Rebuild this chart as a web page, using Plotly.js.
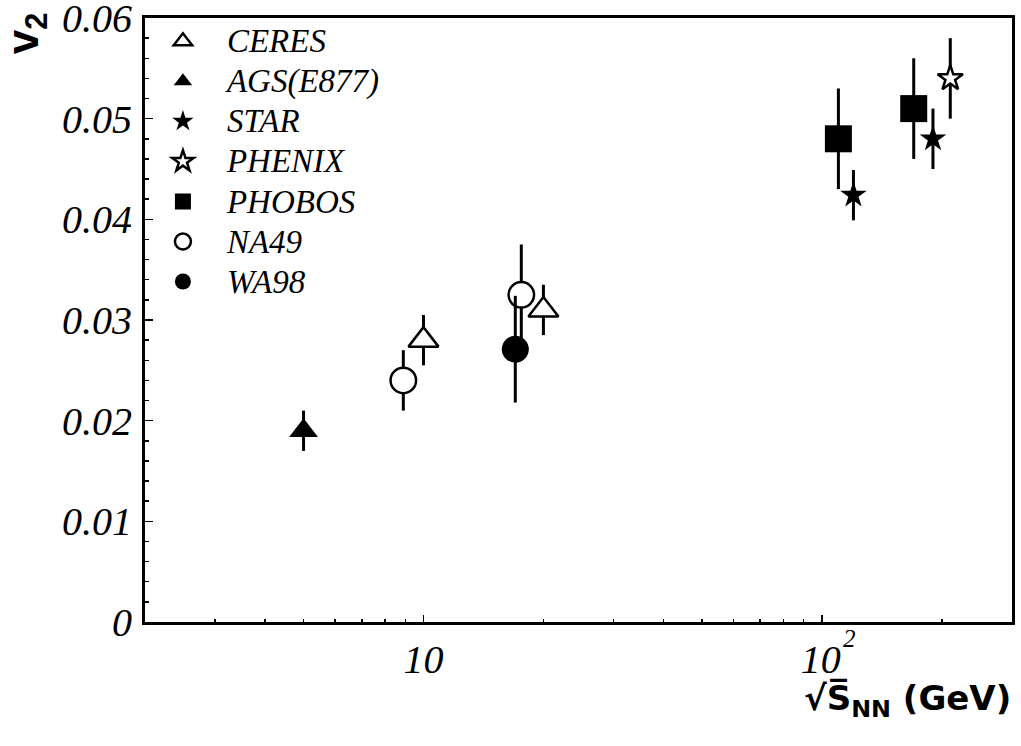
<!DOCTYPE html>
<html>
<head>
<meta charset="utf-8">
<script src="https://cdn.plot.ly/plotly-3.0.1.min.js"></script>
<style>html,body{margin:0;padding:0;background:#fff;}#chart{width:1021px;height:746px;}</style>
</head>
<body>
<div id="chart"></div>
<script>
// ---- data ----
const ceresX = [10, 20];
const ceresY = [0.028, 0.031];
const ceresErr = [0.0025, 0.0025];

const agsX = [5.0];
const agsY = [0.019];
const agsErr = [0.002];

const starX = [120, 190];
const starY = [0.0424, 0.048];
const starErr = [0.0025, 0.003];

const phenixX = [210];
const phenixY = [0.054];
const phenixErr = [0.004];

const phobosX = [110, 170];
const phobosY = [0.048, 0.051];
const phobosErr = [0.005, 0.005];

const na49X = [8.9, 17.6];
const na49Y = [0.024, 0.0325];
const na49Err = [0.003, 0.005];

const wa98X = [17.0];
const wa98Y = [0.0271];
const wa98Err = [0.0053];

const xTickVals = [10, 100];
const xTickText = ['10', '<span style="font-size:25px">\u2002</span>10<span style="font-size:25px;baseline-shift:26px">\u200A2</span>'];
const xMinorVals = [3, 4, 5, 6, 7, 8, 9, 20, 30, 40, 50, 60, 70, 80, 90, 200];

// ---- styling ----
const LEG = s => '<span style="font-size:33px">' + s + '</span>';
function series(name, x, y, err, symbol, size, open) {
  return {
    type: 'scatter', mode: 'markers', name: LEG(name),
    x: x, y: y,
    error_y: {type: 'data', array: err, visible: true, color: '#000', thickness: 3, width: 0},
    marker: {
      symbol: symbol, size: size,
      color: open ? '#fff' : '#000',
      line: {color: '#000', width: open ? 2.5 : 0}
    },
    hoverinfo: 'skip'
  };
}

const data = [
  series('CERES', ceresX, ceresY, ceresErr, 'triangle-up', 26, true),
  series('AGS(E877)', agsX, agsY, agsErr, 'triangle-up', 25, false),
  series('STAR', starX, starY, starErr, 'star', 20, false),
  series('PHENIX', phenixX, phenixY, phenixErr, 'star', 19, true),
  series('PHOBOS', phobosX, phobosY, phobosErr, 'square', 27, false),
  series('NA49', na49X, na49Y, na49Err, 'circle', 25.5, true),
  series('WA98', wa98X, wa98Y, wa98Err, 'circle', 27, false)
];

const tickFont = {family: 'Liberation Serif', size: 40, style: 'italic', color: '#000'};

const layout = {
  width: 1021, height: 746,
  margin: {l: 145, r: 9, t: 18, b: 124, pad: 0},
  paper_bgcolor: '#fff', plot_bgcolor: '#fff',
  showlegend: true,
  hovermode: false,
  font: {family: 'Liberation Serif', color: '#000'},
  xaxis: {
    type: 'log', range: [Math.log10(2), Math.log10(300)],
    showline: true, linewidth: 3, linecolor: '#000', mirror: true,
    showgrid: false, zeroline: false,
    tickmode: 'array', tickvals: xTickVals, ticktext: xTickText,
    ticks: 'inside', ticklen: 7, tickwidth: 1.5, tickcolor: '#000',
    tickfont: tickFont, ticklabelstandoff: 0, ticklabeloverflow: 'allow',
    minor: {tickmode: 'array', tickvals: xMinorVals, ticks: 'inside', ticklen: 3.5, tickwidth: 1.5, tickcolor: '#000', showgrid: false}
  },
  yaxis: {
    range: [0, 0.0600001],
    showline: true, linewidth: 3, linecolor: '#000', mirror: true,
    showgrid: false, zeroline: false,
    tickmode: 'linear', tick0: 0, dtick: 0.01,
    ticks: 'inside', ticklen: 8, tickwidth: 1.5, tickcolor: '#000',
    tickfont: tickFont, ticklabelstandoff: 2, ticklabeloverflow: 'allow',
    minor: {tick0: 0, dtick: 0.002, ticks: 'inside', ticklen: 4, tickwidth: 1.5, tickcolor: '#000', showgrid: false}
  },
  legend: {
    x: -0.007, y: 1.003, xanchor: 'left', yanchor: 'top',
    bgcolor: 'rgba(0,0,0,0)', borderwidth: 0,
    font: {family: 'Liberation Serif', size: 28.5, style: 'italic', color: '#000'},
    itemwidth: 78, traceorder: 'normal', tracegroupgap: 0
  },
  annotations: [
    {
      xref: 'paper', yref: 'paper', x: 1.001, y: -0.13, xanchor: 'right', yanchor: 'middle',
      text: '<b>\u221AS\u0305<sub>NN</sub> (GeV)</b>',
      showarrow: false, font: {family: 'DejaVu Sans', size: 34, color: '#000'}
    },
    {
      xref: 'paper', yref: 'paper', x: -0.137, y: 0.975, xanchor: 'center', yanchor: 'middle',
      text: '<b>v<sub>2</sub></b>', textangle: -90,
      showarrow: false, font: {family: 'Liberation Sans', size: 44, color: '#000'}
    }
  ]
};

Plotly.newPlot('chart', data, layout, {displayModeBar: false, staticPlot: true});
</script>
</body>
</html>
